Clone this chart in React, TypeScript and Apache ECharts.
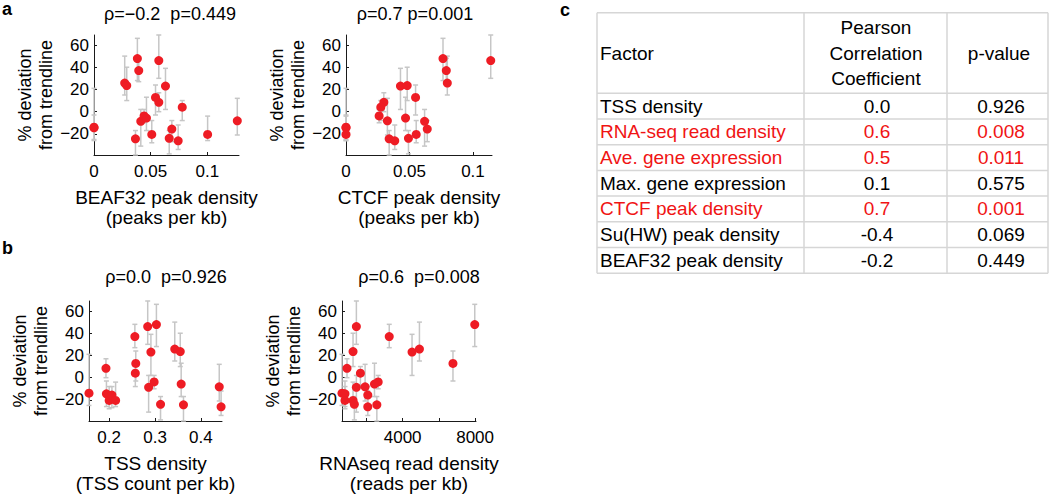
import React, { useEffect, useRef } from "react";
import * as echarts from "echarts";

// ---- data: 21 genomic regions, % deviation from trendline with error bar ends ----
const deviation = [-14, 8.4, -14.5, -20.5, -15.7, -20.5, 37, 12.8, 4, 46, -8.7, 23, -3.8, 47.8, -24, 25.7, 23.5, -5.8, -24.4, -8.2, -26.2];
const errHigh = [21, 17, -3, -8, -8, -4, 48, 24, 10, 69, 2, 39, 2, 66, -17, 50, 40, 13, -17, 12, -12];
const errLow = [-25, 0, -26, -28, -27, -26, 27, -3, -8, 30, -31, 2, -10, 28, -38, 15, 10, -17, -39, -21, -34];

const beaf32Density = [0, 0.0572, 0, 0.051, 0.0687, 0.1003, 0.0395, 0.0543, 0.0779, 0.0572, 0.0413, 0.0631, 0.0442, 0.0383, 0.0664, 0.0271, 0.0289, 0.0463, 0.0366, 0.1265, 0.0743];
const ctcfDensity = [0, 0.0298, 0, 0.0553, 0.064, 0, 0.079, 0.0548, 0.0274, 0.114, 0.0619, 0.0429, 0.0261, 0.0764, 0.0492, 0.0798, 0.0482, 0.0469, 0.034, 0.0326, 0.0384];
const tssDensity = [0.156, 0.193, 0.194, 0.2, 0.206, 0.214, 0.256, 0.258, 0.257, 0.284, 0.286, 0.291, 0.298, 0.303, 0.312, 0.343, 0.355, 0.357, 0.362, 0.44, 0.444];
const rnaDensity = [650, 926, 815, 815, 2074, 1260, 3259, 6778, 1667, 1444, 1444, 4518, 2648, 7981, 1333, 4926, 1260, 2444, 2574, 1926, 2074];

const yTicks = [-20, 0, 20, 40, 60];
const beafTicks = [0, 0.05, 0.1];
const ctcfTicks = [0, 0.05, 0.1];
const tssTicks = [0.2, 0.3, 0.4];
const rnaLabelTicks = [4000, 8000];
const rnaTickMarks = [2000, 4000, 6000, 8000];

const panelTitles = ["ρ=−0.2  p=0.449", "ρ=0.7 p=0.001", "ρ=0.0  p=0.926", "ρ=0.6  p=0.008"];
const xTitles = [
  "BEAF32 peak density\n(peaks per kb)",
  "CTCF peak density\n(peaks per kb)",
  "TSS density\n(TSS count per kb)",
  "RNAseq read density\n(reads per kb)",
];
const yTitle = "% deviation\nfrom trendline";

// ---- table ----
const tableHeader = ["Factor", "Pearson\nCorrelation\nCoefficient", "p-value"];
const factors = ["TSS density", "RNA-seq read density", "Ave. gene expression", "Max. gene expression", "CTCF peak density", "Su(HW) peak density", "BEAF32 peak density"];
const coefficients = ["0.0", "0.6", "0.5", "0.1", "0.7", "-0.4", "-0.2"];
const pValues = ["0.926", "0.008", "0.011", "0.575", "0.001", "0.069", "0.449"];
const significant = [false, true, true, false, true, false, false];

const FONT = "'Liberation Sans', Arial, Helvetica, sans-serif";
const RED = "#ee1c24";
const TABLE_RED = "#f01414";

export default function App() {
  const ref = useRef<HTMLDivElement>(null);
  useEffect(() => {
    if (!ref.current) return;
    const chart = echarts.init(ref.current, undefined, { renderer: "svg" });

    const panels = [
      { xs: beaf32Density, grid: { left: 94, top: 35, width: 145, height: 120 }, min: 0, max: 0.128, labels: beafTicks, ticks: beafTicks, title: [170, 14] },
      { xs: ctcfDensity, grid: { left: 346, top: 35, width: 146, height: 120 }, min: 0, max: 0.115, labels: ctcfTicks, ticks: ctcfTicks, title: [415, 14] },
      { xs: tssDensity, grid: { left: 89, top: 301, width: 133, height: 120 }, min: 0.156, max: 0.446, labels: tssTicks, ticks: tssTicks, title: [166, 277] },
      { xs: rnaDensity, grid: { left: 342, top: 301, width: 134, height: 120 }, min: 650, max: 8050, labels: rnaLabelTicks, ticks: rnaTickMarks, title: [419, 277] },
    ];

    const axisLine = { show: true, onZero: false, lineStyle: { color: "#1a1a1a", width: 1 } };
    const grids = panels.map((p) => ({ ...p.grid }));
    const xAxes = panels.map((p, i) => ({
      type: "value",
      gridIndex: i,
      min: p.min,
      max: p.max,
      axisLine,
      splitLine: { show: false },
      axisTick: { show: true, inside: true, length: 3, customValues: p.ticks, lineStyle: { color: "#1a1a1a" } },
      axisLabel: {
        customValues: p.labels,
        color: "#000",
        fontSize: 17,
        fontFamily: FONT,
        margin: 8,
        formatter: (v: number) => String(v),
      },
      name: xTitles[i],
      nameLocation: "middle",
      nameGap: 32,
      nameTextStyle: { color: "#000", fontSize: 19, fontFamily: FONT, lineHeight: 20 },
    }));
    const yAxes = panels.map((p, i) => ({
      type: "value",
      gridIndex: i,
      min: -39,
      max: 69,
      axisLine,
      splitLine: { show: false },
      axisTick: { show: true, inside: true, length: 3, customValues: yTicks, lineStyle: { color: "#1a1a1a" } },
      axisLabel: {
        customValues: yTicks,
        color: "#000",
        fontSize: 17,
        fontFamily: FONT,
        margin: 5,
        formatter: (v: number) => String(v).replace("-", "−"),
      },
      name: yTitle,
      nameLocation: "middle",
      nameGap: 30,
      nameTextStyle: { color: "#000", fontSize: 18, fontFamily: FONT, lineHeight: 21 },
    }));

    const series: any[] = [];
    panels.forEach((p, i) => {
      series.push({
        type: "custom",
        xAxisIndex: i,
        yAxisIndex: i,
        z: 1,
        clip: false,
        data: p.xs.map((x, k) => [x, errLow[k], errHigh[k]]),
        encode: { x: 0, y: [1, 2] },
        renderItem: (_params: any, api: any) => {
          const x = api.value(0);
          const top = api.coord([x, api.value(2)]);
          const bot = api.coord([x, api.value(1)]);
          const w = 2.5;
          const st = { stroke: "#c6c6c6", lineWidth: 1.5 };
          return {
            type: "group",
            children: [
              { type: "line", shape: { x1: top[0], y1: top[1], x2: bot[0], y2: bot[1] }, style: st },
              { type: "line", shape: { x1: top[0] - w, y1: top[1], x2: top[0] + w, y2: top[1] }, style: st },
              { type: "line", shape: { x1: bot[0] - w, y1: bot[1], x2: bot[0] + w, y2: bot[1] }, style: st },
            ],
          };
        },
      });
      series.push({
        type: "scatter",
        xAxisIndex: i,
        yAxisIndex: i,
        z: 3,
        symbol: "circle",
        symbolSize: 9,
        itemStyle: { color: RED, opacity: 1 },
        data: p.xs.map((x, k) => [x, deviation[k]]),
      });
    });

    const txt = (x: number, y: number, text: string, extra: any = {}) => ({
      type: "text",
      x,
      y,
      style: {
        text,
        fill: "#000",
        fontSize: 17,
        fontFamily: FONT,
        align: "center",
        textAlign: "center",
        verticalAlign: "middle",
        textVerticalAlign: "middle",
        ...extra,
      },
    });

    const graphics: any[] = [];
    panels.forEach((p, i) => graphics.push(txt(p.title[0], p.title[1], panelTitles[i], { fontSize: 18 })));
    graphics.push(txt(2, 9, "a", { fontWeight: "bold", align: "left", textAlign: "left", fontSize: 18 }));
    graphics.push(txt(2, 248, "b", { fontWeight: "bold", align: "left", textAlign: "left", fontSize: 18 }));
    graphics.push(txt(560, 10, "c", { fontWeight: "bold", align: "left", textAlign: "left", fontSize: 18 }));

    // table
    const colEdges = [597, 804, 947, 1048];
    const top = 12.7;
    const headerH = 80.6;
    const rowH = 25.7;
    const rowEdges = [top, top + headerH];
    factors.forEach(() => rowEdges.push(rowEdges[rowEdges.length - 1] + rowH));
    const lineStyle = { stroke: "#d6d6d6", lineWidth: 1.5 };
    rowEdges.forEach((y) =>
      graphics.push({ type: "line", shape: { x1: colEdges[0], y1: y, x2: colEdges[3], y2: y }, style: lineStyle })
    );
    colEdges.forEach((x) =>
      graphics.push({ type: "line", shape: { x1: x, y1: rowEdges[0], x2: x, y2: rowEdges[rowEdges.length - 1] }, style: lineStyle })
    );
    const tf = { fontSize: 19 };
    const hMid = top + headerH / 2;
    graphics.push(txt(600, hMid, tableHeader[0], { ...tf, align: "left", textAlign: "left" }));
    graphics.push(txt(876, hMid, tableHeader[1], { ...tf, lineHeight: 25.7 }));
    graphics.push(txt(999, hMid, tableHeader[2], tf));
    factors.forEach((f, r) => {
      const y = rowEdges[r + 1] + rowH / 2;
      const fill = significant[r] ? TABLE_RED : "#000";
      graphics.push(txt(600, y, f, { ...tf, fill, align: "left", textAlign: "left" }));
      graphics.push(txt(877, y, coefficients[r], { ...tf, fill }));
      graphics.push(txt(1001, y, pValues[r], { ...tf, fill }));
    });

    chart.setOption({
      animation: false,
      backgroundColor: "#ffffff",
      textStyle: { fontFamily: FONT },
      grid: grids,
      xAxis: xAxes,
      yAxis: yAxes,
      series,
      graphic: { elements: graphics },
    });
    return () => chart.dispose();
  }, []);

  return (
    <div
      ref={ref}
      style={{ position: "absolute", left: 0, top: 0, width: 1050, height: 495 }}
    />
  );
}
